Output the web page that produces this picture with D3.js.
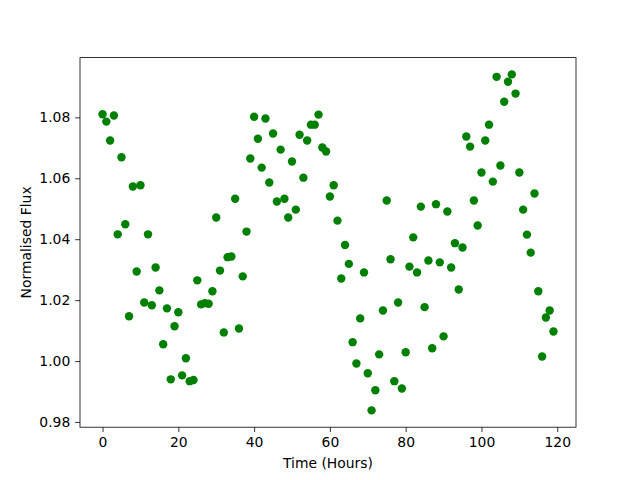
<!DOCTYPE html>
<html>
<head>
<meta charset="utf-8">
<script src="https://cdn.jsdelivr.net/npm/d3@7"></script>
<style>
  html, body { margin: 0; padding: 0; background: #fff; }
  svg { display: block; }
  text { font-family: "DejaVu Sans", sans-serif; }
</style>
</head>
<body>
<svg id="chart" width="640" height="480"></svg>
<script>
const timeHours = [
  0,1,2,3,4,5,6,7,8,9,10,11,12,13,14,15,16,17,18,19,
  20,21,22,23,24,25,26,27,28,29,30,31,32,33,34,35,36,37,38,39,
  40,41,42,43,44,45,46,47,48,49,50,51,52,53,54,55,56,57,58,59,
  60,61,62,63,64,65,66,67,68,69,70,71,72,73,74,75,76,77,78,79,
  80,81,82,83,84,85,86,87,88,89,90,91,92,93,94,95,96,97,98,99,
  100,101,102,103,104,105,106,107,108,109,110,111,112,113,114,115,116,117,118,119
];
const normalisedFlux = [
  1.0810,1.0786,1.0724,1.0806,1.0416,1.0669,1.0449,1.0147,1.0573,1.0294,
  1.0577,1.0192,1.0416,1.0183,1.0307,1.0232,1.0055,1.0173,0.9940,1.0114,
  1.0160,0.9953,1.0009,0.9934,0.9938,1.0265,1.0186,1.0190,1.0188,1.0229,
  1.0471,1.0297,1.0094,1.0341,1.0343,1.0533,1.0107,1.0278,1.0425,1.0665,
  1.0802,1.0730,1.0635,1.0796,1.0586,1.0747,1.0524,1.0694,1.0533,1.0471,
  1.0655,1.0497,1.0743,1.0602,1.0724,1.0776,1.0776,1.0809,1.0701,1.0688,
  1.0540,1.0577,1.0461,1.0271,1.0381,1.0319,1.0062,0.9992,1.0140,1.0291,
  0.9960,0.9838,0.9904,1.0022,1.0166,1.0527,1.0334,0.9934,1.0192,0.9910,
  1.0029,1.0310,1.0406,1.0291,1.0507,1.0177,1.0330,1.0042,1.0515,1.0324,
  1.0081,1.0491,1.0307,1.0387,1.0235,1.0373,1.0737,1.0704,1.0527,1.0445,
  1.0619,1.0724,1.0776,1.0589,1.0933,1.0642,1.0851,1.0917,1.0941,1.0878,
  1.0619,1.0497,1.0415,1.0356,1.0550,1.0229,1.0015,1.0143,1.0166,1.0097
];
const xTickValues = [0, 20, 40, 60, 80, 100, 120];
const yTickValues = [0.98, 1.00, 1.02, 1.04, 1.06, 1.08];
const xLabel = "Time (Hours)";
const yLabel = "Normalised Flux";

const W = 640, H = 480;
const L = 80, R = 576, T = 57.6, B = 427.2;

function padded(ext) {
  const r = ext[1] - ext[0];
  return [ext[0] - 0.05 * r, ext[1] + 0.05 * r];
}

const x = d3.scaleLinear().domain(padded(d3.extent(timeHours))).range([L, R]);
const y = d3.scaleLinear().domain(padded(d3.extent(normalisedFlux))).range([B, T]);

const svg = d3.select("#chart");
svg.append("rect").attr("width", W).attr("height", H).attr("fill", "#fff");

const pts = timeHours.map((t, i) => ({ t, f: normalisedFlux[i] }));

svg.append("g")
  .selectAll("circle")
  .data(pts)
  .join("circle")
  .attr("cx", d => x(d.t))
  .attr("cy", d => y(d.f))
  .attr("r", 4.2)
  .attr("fill", "#008000");

const tickLen = 4.86, tickPad = 4.86;

const xAxis = svg.append("g")
  .attr("transform", `translate(0,${B})`)
  .call(d3.axisBottom(x).tickValues(xTickValues).tickFormat(d3.format("d"))
    .tickSize(tickLen).tickPadding(tickPad).tickSizeOuter(0));
const yAxis = svg.append("g")
  .attr("transform", `translate(${L},0)`)
  .call(d3.axisLeft(y).tickValues(yTickValues).tickFormat(d3.format(".2f"))
    .tickSize(tickLen).tickPadding(tickPad).tickSizeOuter(0));

[xAxis, yAxis].forEach(g => {
  g.select(".domain").remove();
  g.selectAll(".tick line").attr("stroke", "#000").attr("stroke-width", 0.8);
  g.selectAll(".tick text").attr("fill", "#000")
    .style("font-family", "'DejaVu Sans', sans-serif").style("font-size", "13.9px");
});

// spines
svg.append("rect")
  .attr("x", L).attr("y", T).attr("width", R - L).attr("height", B - T)
  .attr("fill", "none").attr("stroke", "#000").attr("stroke-width", 0.8);

svg.append("text")
  .attr("x", (L + R) / 2).attr("y", 468)
  .attr("text-anchor", "middle")
  .style("font-size", "13.9px").attr("fill", "#000")
  .text(xLabel);

svg.append("text")
  .attr("transform", `translate(31,${(T + B) / 2}) rotate(-90)`)
  .attr("text-anchor", "middle")
  .style("font-size", "13.9px").attr("fill", "#000")
  .text(yLabel);
</script>
</body>
</html>
